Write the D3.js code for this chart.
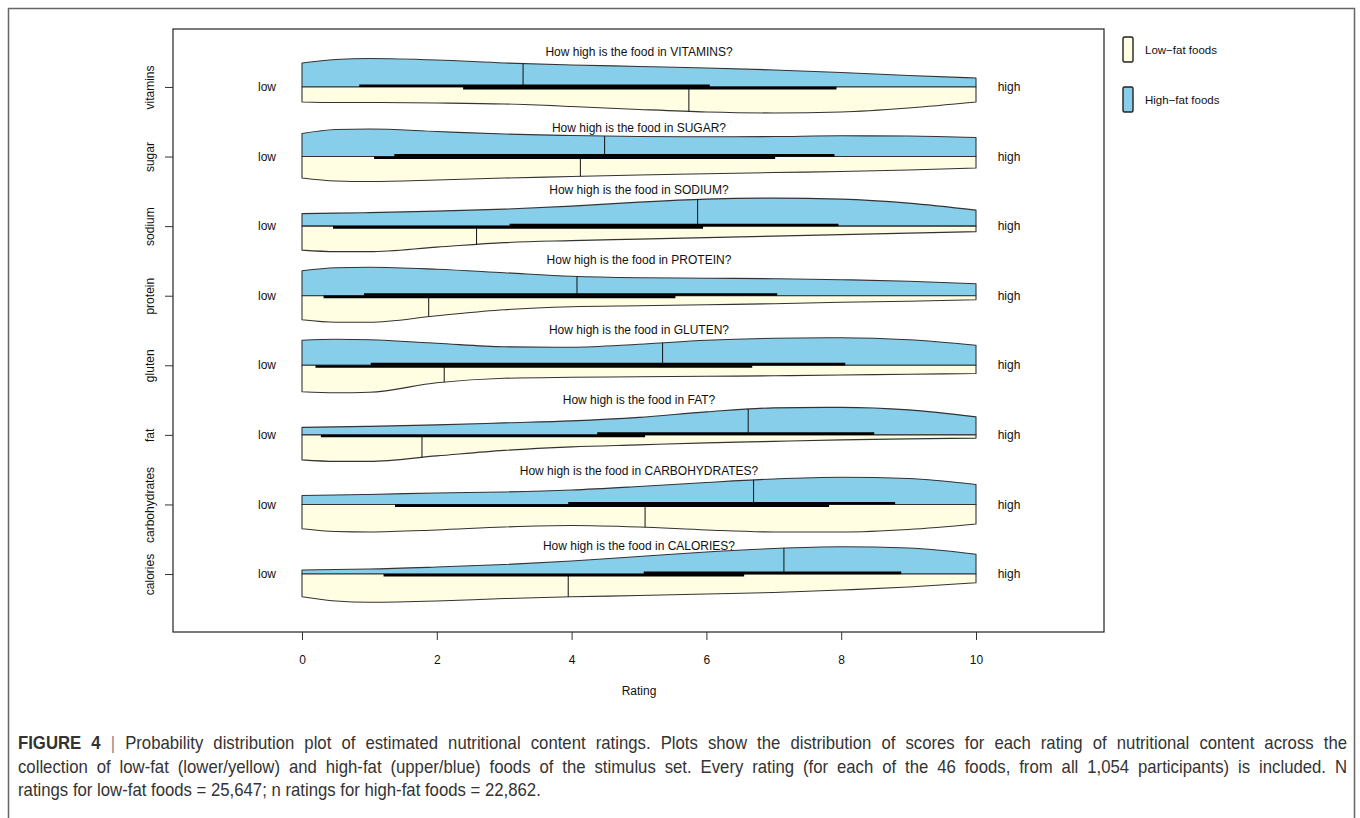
<!DOCTYPE html>
<html>
<head>
<meta charset="utf-8">
<script src="https://cdn.jsdelivr.net/npm/d3@7/dist/d3.min.js"></script>
<style>
  html, body { margin: 0; padding: 0; background: #fff; }
  svg { display: block; }
  text { font-family: "Liberation Sans", Arial, Helvetica, sans-serif; }
</style>
</head>
<body>
<svg id="chart" width="1360" height="818"></svg>
<script>
// Nutrient questions, top to bottom
const categories = ["vitamins", "sugar", "sodium", "protein", "gluten", "fat", "carbohydrates", "calories"];
const questions = [
  "How high is the food in VITAMINS?",
  "How high is the food in SUGAR?",
  "How high is the food in SODIUM?",
  "How high is the food in PROTEIN?",
  "How high is the food in GLUTEN?",
  "How high is the food in FAT?",
  "How high is the food in CARBOHYDRATES?",
  "How high is the food in CALORIES?"
];
const xTicks = [0, 2, 4, 6, 8, 10];
const seriesNames = ["Low\u2212fat foods", "High\u2212fat foods"];

// Rating positions at which the densities are given
const ratingGrid = [0, 0.5, 1, 2, 3, 4, 5, 6, 7, 8, 9, 10];

// Estimated rating densities, one row per nutrient (high-fat foods, drawn above)
const highFatDensity = [
  [0.096, 0.110, 0.114, 0.108, 0.096, 0.088, 0.082, 0.076, 0.068, 0.058, 0.046, 0.036],
  [0.092, 0.108, 0.110, 0.100, 0.090, 0.084, 0.080, 0.079, 0.080, 0.083, 0.082, 0.076],
  [0.050, 0.052, 0.054, 0.060, 0.068, 0.080, 0.096, 0.108, 0.112, 0.108, 0.092, 0.064],
  [0.100, 0.112, 0.114, 0.106, 0.092, 0.078, 0.072, 0.070, 0.068, 0.064, 0.058, 0.048],
  [0.100, 0.104, 0.102, 0.088, 0.074, 0.072, 0.084, 0.100, 0.108, 0.110, 0.102, 0.080],
  [0.030, 0.032, 0.034, 0.040, 0.048, 0.056, 0.070, 0.092, 0.108, 0.110, 0.100, 0.072],
  [0.036, 0.038, 0.040, 0.046, 0.050, 0.058, 0.072, 0.088, 0.102, 0.109, 0.104, 0.080],
  [0.016, 0.018, 0.020, 0.028, 0.038, 0.052, 0.070, 0.088, 0.102, 0.109, 0.104, 0.079]
];
// Low-fat foods, drawn below
const lowFatDensity = [
  [0.060, 0.062, 0.062, 0.064, 0.068, 0.078, 0.090, 0.100, 0.104, 0.100, 0.084, 0.060],
  [0.086, 0.098, 0.100, 0.094, 0.086, 0.080, 0.074, 0.069, 0.064, 0.060, 0.054, 0.046],
  [0.096, 0.102, 0.102, 0.084, 0.066, 0.058, 0.052, 0.046, 0.040, 0.034, 0.028, 0.022],
  [0.096, 0.106, 0.106, 0.080, 0.056, 0.044, 0.040, 0.036, 0.032, 0.026, 0.022, 0.016],
  [0.106, 0.110, 0.108, 0.070, 0.052, 0.048, 0.046, 0.044, 0.042, 0.039, 0.036, 0.033],
  [0.100, 0.106, 0.106, 0.084, 0.062, 0.048, 0.040, 0.032, 0.026, 0.020, 0.016, 0.013],
  [0.097, 0.108, 0.110, 0.102, 0.090, 0.084, 0.090, 0.102, 0.110, 0.110, 0.100, 0.078],
  [0.091, 0.108, 0.113, 0.108, 0.098, 0.091, 0.086, 0.080, 0.074, 0.064, 0.052, 0.035]
];

// Medians and interquartile ranges of the ratings
const highFatMedian = [3.28, 4.49, 5.87, 4.08, 5.35, 6.62, 6.70, 7.15];
const lowFatMedian  = [5.74, 4.13, 2.59, 1.88, 2.11, 1.78, 5.09, 3.95];
const highFatQ1 = [0.85, 1.37, 3.08, 0.92, 1.02, 4.38, 3.95, 5.07];
const highFatQ3 = [6.05, 7.90, 7.96, 7.05, 8.06, 8.49, 8.80, 8.89];
const lowFatQ1  = [2.39, 1.07, 0.46, 0.32, 0.20, 0.28, 1.38, 1.21];
const lowFatQ3  = [7.93, 7.02, 5.95, 5.54, 6.68, 5.09, 7.82, 6.56];

// ---- layout ----
const box = { left: 173, right: 1104, top: 29, bottom: 632 };
const titleLift = [35, 28.5, 36, 36, 35, 35, 34, 28];
const colHigh = "#87ceeb";
const colLow = "#fffde2";
const outline = "#333";
const fs = 12;

const svg = d3.select("#chart");

// outer figure frame
svg.append("rect")
  .attr("x", 8.5).attr("y", 8.5).attr("width", 1346).attr("height", 900)
  .attr("fill", "none").attr("stroke", "#666").attr("stroke-width", 1.5);

const x = d3.scaleLinear().domain([0, 10]).range([302, 976]);
const y = d3.scalePoint().domain(categories).range([box.top, box.bottom]).padding(0.833);
const dens = d3.scaleLinear().domain([0, 0.1]).range([0, 25]);

const plot = svg.append("g");

categories.forEach((cat, i) => {
  const base = y(cat);
  const g = plot.append("g");

  const halves = [
    { d: highFatDensity[i], dir: -1, fill: colHigh, med: highFatMedian[i] },
    { d: lowFatDensity[i],  dir:  1, fill: colLow,  med: lowFatMedian[i] }
  ];

  halves.forEach(h => {
    const pts = ratingGrid.map((r, k) => [r, h.d[k]]);
    const area = d3.area()
      .x(p => x(p[0]))
      .y0(base)
      .y1(p => base + h.dir * dens(p[1]))
      .curve(d3.curveMonotoneX);
    g.append("path")
      .attr("d", area(pts))
      .attr("fill", h.fill)
      .attr("stroke", outline)
      .attr("stroke-width", 1.1)
      .attr("stroke-linejoin", "round");

    // height of the smoothed outline at the median
    const line = d3.line().x(p => x(p[0])).y(p => base + h.dir * dens(p[1])).curve(d3.curveMonotoneX);
    const probe = g.append("path").attr("d", line(pts)).attr("fill", "none").attr("stroke", "none");
    const node = probe.node();
    const total = node.getTotalLength();
    const tx = x(h.med);
    let lo = 0, hi = total;
    for (let it = 0; it < 40; it++) {
      const mid = (lo + hi) / 2;
      if (node.getPointAtLength(mid).x < tx) lo = mid; else hi = mid;
    }
    h.medY = node.getPointAtLength((lo + hi) / 2).y;
    probe.remove();
  });

  // median marks
  halves.forEach(h => {
    g.append("line")
      .attr("x1", x(h.med)).attr("x2", x(h.med))
      .attr("y1", base).attr("y2", h.medY)
      .attr("stroke", "#111").attr("stroke-width", 1);
  });

  // interquartile bars
  g.append("line")
    .attr("x1", x(highFatQ1[i])).attr("x2", x(highFatQ3[i]))
    .attr("y1", base - 1.2).attr("y2", base - 1.2)
    .attr("stroke", "#000").attr("stroke-width", 2.6);
  g.append("line")
    .attr("x1", x(lowFatQ1[i])).attr("x2", x(lowFatQ3[i]))
    .attr("y1", base + 1.2).attr("y2", base + 1.2)
    .attr("stroke", "#000").attr("stroke-width", 2.6);

  // question and scale end labels
  g.append("text")
    .attr("x", x(5)).attr("y", base - titleLift[i]).attr("dy", "0.35em")
    .attr("text-anchor", "middle").attr("font-size", fs).attr("fill", "#111")
    .text(questions[i]);
  g.append("text")
    .attr("x", x(0) - 35).attr("y", base).attr("dy", "0.35em")
    .attr("text-anchor", "middle").attr("font-size", fs).attr("fill", "#111")
    .text("low");
  g.append("text")
    .attr("x", x(10) + 33).attr("y", base).attr("dy", "0.35em")
    .attr("text-anchor", "middle").attr("font-size", fs).attr("fill", "#111")
    .text("high");
});

// plot box
svg.append("rect")
  .attr("x", box.left).attr("y", box.top)
  .attr("width", box.right - box.left).attr("height", box.bottom - box.top)
  .attr("fill", "none").attr("stroke", "#222").attr("stroke-width", 1.2);

// x axis
const xAxis = svg.append("g")
  .attr("transform", `translate(0,${box.bottom})`)
  .call(d3.axisBottom(x).tickValues(xTicks).tickSize(8).tickPadding(15));
xAxis.select(".domain").remove();
xAxis.selectAll("line").attr("stroke", "#333");
xAxis.selectAll("text").attr("font-size", fs).attr("fill", "#111")
  .style("font-family", "'Liberation Sans', Arial, sans-serif");

svg.append("text")
  .attr("x", x(5)).attr("y", 691).attr("dy", "0.35em")
  .attr("text-anchor", "middle").attr("font-size", fs).attr("fill", "#111")
  .text("Rating");

// y axis with rotated category labels
const yAxis = svg.append("g")
  .attr("transform", `translate(${box.left},0)`)
  .call(d3.axisLeft(y).tickSize(8));
yAxis.select(".domain").remove();
yAxis.selectAll("line").attr("stroke", "#333");
yAxis.selectAll("text")
  .attr("x", null).attr("dy", null)
  .attr("text-anchor", "middle")
  .attr("dominant-baseline", "central")
  .attr("transform", "translate(-23,0) rotate(-90)")
  .attr("font-size", fs).attr("fill", "#111")
  .style("font-family", "'Liberation Sans', Arial, sans-serif");

// legend
const legend = svg.append("g");
[colLow, colHigh].forEach((c, k) => {
  const ly = 37 + k * 50;
  legend.append("rect")
    .attr("x", 1123).attr("y", ly).attr("width", 10).attr("height", 25)
    .attr("rx", 1.5)
    .attr("fill", c).attr("stroke", "#222").attr("stroke-width", 1.4);
  legend.append("text")
    .attr("x", 1145).attr("y", ly + 12.5).attr("dy", "0.35em")
    .attr("font-size", 11.5).attr("fill", "#111")
    .text(seriesNames[k]);
});

// figure caption: slightly narrowed sans, first two lines justified to the frame width
const captionLines = [
  "Probability distribution plot of estimated nutritional content ratings. Plots show the distribution of scores for each rating of nutritional content across the",
  "collection of low-fat (lower/yellow) and high-fat (upper/blue) foods of the stimulus set. Every rating (for each of the 46 foods, from all 1,054 participants) is included. N",
  "ratings for low-fat foods = 25,647; n ratings for high-fat foods = 22,862."
];
const capX = 18, capRight = 1347, squeeze = 0.93;
const cap = svg.append("g")
  .attr("transform", `translate(${capX},0) scale(${squeeze},1)`)
  .attr("font-size", 18).attr("fill", "#333");
const first = cap.append("text").attr("x", 0).attr("y", 749);
first.append("tspan").attr("font-weight", "bold").text("FIGURE 4");
first.append("tspan").attr("fill", "#888").text(" | ");
first.append("tspan").text(captionLines[0]);
const second = cap.append("text").attr("x", 0).attr("y", 773).text(captionLines[1]);
cap.append("text").attr("x", 0).attr("y", 796).text(captionLines[2]);

function justify(t) {
  const node = t.node();
  const w = node.getComputedTextLength();
  const spaces = (node.textContent.match(/ /g) || []).length;
  const target = (capRight - capX) / squeeze;
  if (spaces > 0) t.attr("word-spacing", Math.max(0, (target - w) / spaces));
}
justify(first);
justify(second);
</script>
</body>
</html>
